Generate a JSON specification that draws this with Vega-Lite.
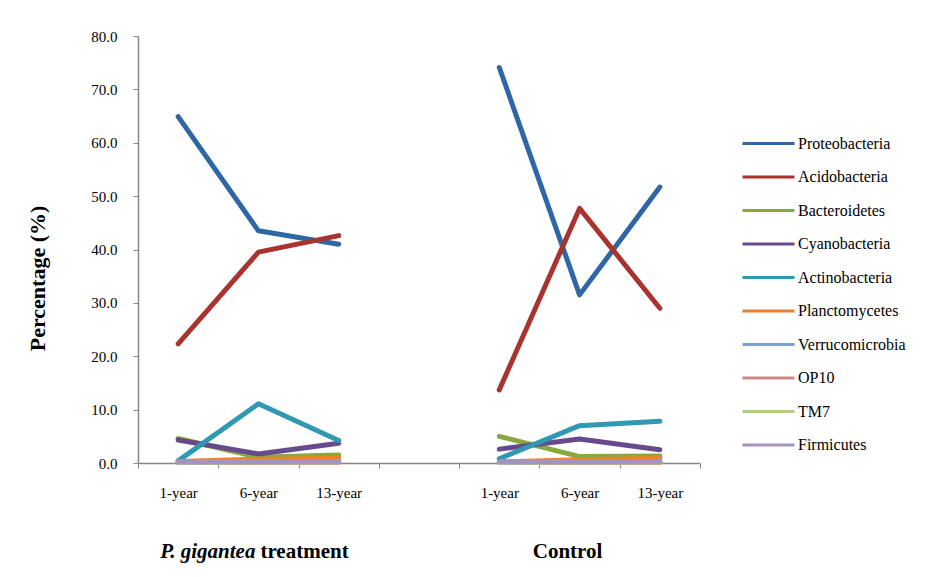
{
  "$schema": "https://vega.github.io/schema/vega-lite/v6.json",
  "width": 562,
  "height": 427,
  "autosize": {"type": "none"},
  "padding": {"left": 138, "top": 36, "right": 231, "bottom": 114},
  "background": "white",
  "config": {
    "view": {"stroke": null},
    "font": "Liberation Serif, Times New Roman, serif",
    "axis": {"labelFont": "Liberation Serif, Times New Roman, serif", "titleFont": "Liberation Serif, Times New Roman, serif", "labelColor": "black", "titleColor": "black"},
    "legend": {"labelFont": "Liberation Serif, Times New Roman, serif"}
  },
  "layer": [
    {
      "data": {"values": [
        {"phylum": "Proteobacteria", "grp": "T", "cat": "T1", "yr": 1, "pct": 64.9},
        {"phylum": "Proteobacteria", "grp": "T", "cat": "T6", "yr": 6, "pct": 43.5},
        {"phylum": "Proteobacteria", "grp": "T", "cat": "T13", "yr": 13, "pct": 41.0},
        {"phylum": "Proteobacteria", "grp": "C", "cat": "C1", "yr": 1, "pct": 74.1},
        {"phylum": "Proteobacteria", "grp": "C", "cat": "C6", "yr": 6, "pct": 31.5},
        {"phylum": "Proteobacteria", "grp": "C", "cat": "C13", "yr": 13, "pct": 51.7},
        {"phylum": "Acidobacteria", "grp": "T", "cat": "T1", "yr": 1, "pct": 22.3},
        {"phylum": "Acidobacteria", "grp": "T", "cat": "T6", "yr": 6, "pct": 39.5},
        {"phylum": "Acidobacteria", "grp": "T", "cat": "T13", "yr": 13, "pct": 42.6},
        {"phylum": "Acidobacteria", "grp": "C", "cat": "C1", "yr": 1, "pct": 13.7},
        {"phylum": "Acidobacteria", "grp": "C", "cat": "C6", "yr": 6, "pct": 47.7},
        {"phylum": "Acidobacteria", "grp": "C", "cat": "C13", "yr": 13, "pct": 29.0},
        {"phylum": "Bacteroidetes", "grp": "T", "cat": "T1", "yr": 1, "pct": 4.6},
        {"phylum": "Bacteroidetes", "grp": "T", "cat": "T6", "yr": 6, "pct": 1.1},
        {"phylum": "Bacteroidetes", "grp": "T", "cat": "T13", "yr": 13, "pct": 1.5},
        {"phylum": "Bacteroidetes", "grp": "C", "cat": "C1", "yr": 1, "pct": 5.0},
        {"phylum": "Bacteroidetes", "grp": "C", "cat": "C6", "yr": 6, "pct": 1.2},
        {"phylum": "Bacteroidetes", "grp": "C", "cat": "C13", "yr": 13, "pct": 1.3},
        {"phylum": "Cyanobacteria", "grp": "T", "cat": "T1", "yr": 1, "pct": 4.3},
        {"phylum": "Cyanobacteria", "grp": "T", "cat": "T6", "yr": 6, "pct": 1.7},
        {"phylum": "Cyanobacteria", "grp": "T", "cat": "T13", "yr": 13, "pct": 3.7},
        {"phylum": "Cyanobacteria", "grp": "C", "cat": "C1", "yr": 1, "pct": 2.6},
        {"phylum": "Cyanobacteria", "grp": "C", "cat": "C6", "yr": 6, "pct": 4.5},
        {"phylum": "Cyanobacteria", "grp": "C", "cat": "C13", "yr": 13, "pct": 2.5},
        {"phylum": "Actinobacteria", "grp": "T", "cat": "T1", "yr": 1, "pct": 0.4},
        {"phylum": "Actinobacteria", "grp": "T", "cat": "T6", "yr": 6, "pct": 11.1},
        {"phylum": "Actinobacteria", "grp": "T", "cat": "T13", "yr": 13, "pct": 4.2},
        {"phylum": "Actinobacteria", "grp": "C", "cat": "C1", "yr": 1, "pct": 0.8},
        {"phylum": "Actinobacteria", "grp": "C", "cat": "C6", "yr": 6, "pct": 7.0},
        {"phylum": "Actinobacteria", "grp": "C", "cat": "C13", "yr": 13, "pct": 7.8},
        {"phylum": "Planctomycetes", "grp": "T", "cat": "T1", "yr": 1, "pct": 0.3},
        {"phylum": "Planctomycetes", "grp": "T", "cat": "T6", "yr": 6, "pct": 0.7},
        {"phylum": "Planctomycetes", "grp": "T", "cat": "T13", "yr": 13, "pct": 0.9},
        {"phylum": "Planctomycetes", "grp": "C", "cat": "C1", "yr": 1, "pct": 0.2},
        {"phylum": "Planctomycetes", "grp": "C", "cat": "C6", "yr": 6, "pct": 0.6},
        {"phylum": "Planctomycetes", "grp": "C", "cat": "C13", "yr": 13, "pct": 0.9},
        {"phylum": "Verrucomicrobia", "grp": "T", "cat": "T1", "yr": 1, "pct": 0.2},
        {"phylum": "Verrucomicrobia", "grp": "T", "cat": "T6", "yr": 6, "pct": 0.3},
        {"phylum": "Verrucomicrobia", "grp": "T", "cat": "T13", "yr": 13, "pct": 0.3},
        {"phylum": "Verrucomicrobia", "grp": "C", "cat": "C1", "yr": 1, "pct": 0.2},
        {"phylum": "Verrucomicrobia", "grp": "C", "cat": "C6", "yr": 6, "pct": 0.3},
        {"phylum": "Verrucomicrobia", "grp": "C", "cat": "C13", "yr": 13, "pct": 0.3},
        {"phylum": "OP10", "grp": "T", "cat": "T1", "yr": 1, "pct": 0.1},
        {"phylum": "OP10", "grp": "T", "cat": "T6", "yr": 6, "pct": 0.1},
        {"phylum": "OP10", "grp": "T", "cat": "T13", "yr": 13, "pct": 0.1},
        {"phylum": "OP10", "grp": "C", "cat": "C1", "yr": 1, "pct": 0.1},
        {"phylum": "OP10", "grp": "C", "cat": "C6", "yr": 6, "pct": 0.1},
        {"phylum": "OP10", "grp": "C", "cat": "C13", "yr": 13, "pct": 0.1},
        {"phylum": "TM7", "grp": "T", "cat": "T1", "yr": 1, "pct": 0.1},
        {"phylum": "TM7", "grp": "T", "cat": "T6", "yr": 6, "pct": 0.2},
        {"phylum": "TM7", "grp": "T", "cat": "T13", "yr": 13, "pct": 0.2},
        {"phylum": "TM7", "grp": "C", "cat": "C1", "yr": 1, "pct": 0.1},
        {"phylum": "TM7", "grp": "C", "cat": "C6", "yr": 6, "pct": 0.2},
        {"phylum": "TM7", "grp": "C", "cat": "C13", "yr": 13, "pct": 0.2},
        {"phylum": "Firmicutes", "grp": "T", "cat": "T1", "yr": 1, "pct": 0.2},
        {"phylum": "Firmicutes", "grp": "T", "cat": "T6", "yr": 6, "pct": 0.3},
        {"phylum": "Firmicutes", "grp": "T", "cat": "T13", "yr": 13, "pct": 0.3},
        {"phylum": "Firmicutes", "grp": "C", "cat": "C1", "yr": 1, "pct": 0.2},
        {"phylum": "Firmicutes", "grp": "C", "cat": "C6", "yr": 6, "pct": 0.3},
        {"phylum": "Firmicutes", "grp": "C", "cat": "C13", "yr": 13, "pct": 0.3}
      ]},
      "mark": {"type": "line", "strokeWidth": 5, "strokeCap": "round", "strokeJoin": "round"},
      "encoding": {
        "x": {
          "field": "cat", "type": "nominal", "sort": null,
          "scale": {"type": "band", "domain": ["T1", "T6", "T13", "gap", "C1", "C6", "C13"], "paddingInner": 0, "paddingOuter": 0},
          "axis": {
            "title": null,
            "labelExpr": "{'T1':'1-year','T6':'6-year','T13':'13-year','C1':'1-year','C6':'6-year','C13':'13-year','gap':''}[datum.value]",
            "labelAngle": 0, "labelFontSize": 15, "labelPadding": 17,
            "tickBand": "extent", "tickSize": 5, "tickColor": "#868686", "domainColor": "#868686", "tickWidth": 1, "domainWidth": 1.5,
            "grid": false
          }
        },
        "y": {
          "field": "pct", "type": "quantitative",
          "scale": {"domain": [0, 80], "nice": false, "zero": true},
          "axis": {
            "title": "Percentage (%)", "titleFontSize": 22, "titleFontWeight": "bold",
            "titleAngle": 270, "titleX": -101, "titleY": 242, "titleAlign": "center", "titleBaseline": "middle",
            "values": [0, 10, 20, 30, 40, 50, 60, 70, 80], "format": ".1f",
            "labelFontSize": 15, "labelPadding": 16, "tickSize": 5,
            "tickColor": "#868686", "domainColor": "#868686", "domainWidth": 1.5, "grid": false
          }
        },
        "color": {
          "field": "phylum", "type": "nominal",
          "scale": {
            "domain": ["Proteobacteria", "Acidobacteria", "Bacteroidetes", "Cyanobacteria", "Actinobacteria", "Planctomycetes", "Verrucomicrobia", "OP10", "TM7", "Firmicutes"],
            "range": ["#2f67a6", "#a8332f", "#86a83c", "#674a8c", "#2f98b2", "#e8822c", "#7f9fd0", "#d08986", "#b3cc84", "#a393bf"]
          },
          "legend": {
            "title": null, "orient": "none", "legendX": 616, "legendY": 93,
            "symbolType": "M-2,0H2", "symbolSize": 676, "symbolStrokeWidth": 3,
            "labelFont": "Liberation Serif, Times New Roman, serif", "labelFontSize": 16, "labelColor": "black",
            "labelOffset": 15, "rowPadding": 10.5, "padding": 0
          }
        },
        "detail": {"field": "grp"},
        "order": {"field": "yr", "type": "quantitative"}
      }
    },
    {
      "data": {"values": [{"cat": "T6", "txt": "P. gigantea"}]},
      "mark": {"type": "text", "font": "Liberation Serif, Times New Roman, serif", "fontSize": 21, "fontWeight": "bold", "fontStyle": "italic", "align": "right", "baseline": "middle", "dx": -3, "color": "black"},
      "encoding": {"x": {"field": "cat", "type": "nominal"}, "y": {"datum": -16.6}, "text": {"field": "txt"}}
    },
    {
      "data": {"values": [{"cat": "T6", "txt": "treatment"}]},
      "mark": {"type": "text", "font": "Liberation Serif, Times New Roman, serif", "fontSize": 21, "fontWeight": "bold", "align": "left", "baseline": "middle", "dx": 2, "color": "black"},
      "encoding": {"x": {"field": "cat", "type": "nominal"}, "y": {"datum": -16.6}, "text": {"field": "txt"}}
    },
    {
      "data": {"values": [{"cat": "C6", "txt": "Control"}]},
      "mark": {"type": "text", "font": "Liberation Serif, Times New Roman, serif", "fontSize": 21, "fontWeight": "bold", "align": "center", "baseline": "middle", "dx": -12, "color": "black"},
      "encoding": {"x": {"field": "cat", "type": "nominal"}, "y": {"datum": -16.6}, "text": {"field": "txt"}}
    }
  ]
}
